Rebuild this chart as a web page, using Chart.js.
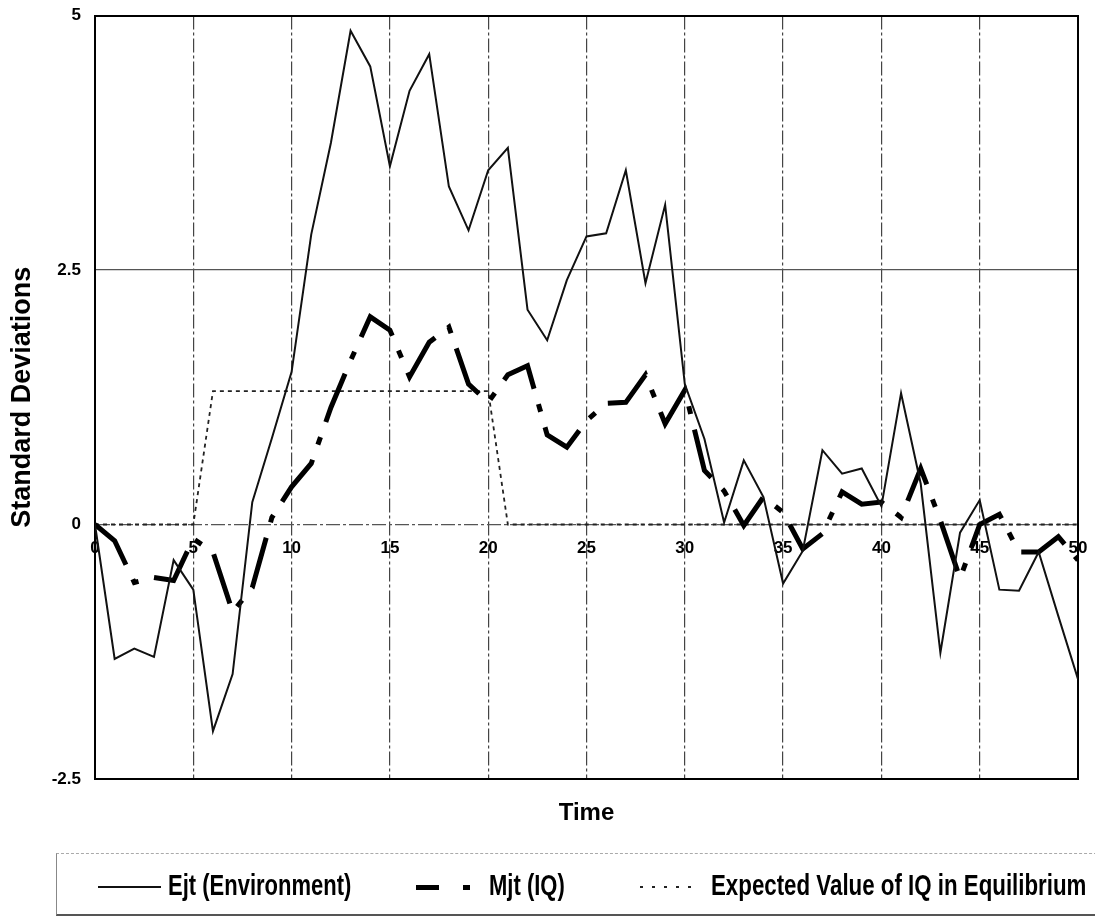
<!DOCTYPE html>
<html>
<head>
<meta charset="utf-8">
<script src="https://cdn.jsdelivr.net/npm/chart.js@4"></script>
<style>
  body { margin: 0; background: #fff; }
  #wrap { position: relative; width: 1095px; height: 916px; overflow: hidden; }
  #frame { position: absolute; left: 56px; top: 853px; width: 1060px; height: 60px;
           border-top: 1px dashed #aaa; border-left: 1px solid #888; border-bottom: 2px solid #555; }
  .sample { position: absolute; }
  .txt { position: absolute; top: 873px; line-height: 28px; white-space: nowrap;
         font: bold 22px "Liberation Sans", Arial, sans-serif; color: #000;
         transform: scaleY(1.3); transform-origin: left center; }
</style>
</head>
<body>
<div id="wrap">
  <canvas id="chart" width="1095" height="916"></canvas>
  <div id="frame"></div>
  <div class="sample" style="left:98px;top:886px;width:63px;height:2px;background:#111"></div>
  <div class="txt" style="left:168px">Ejt (Environment)</div>
  <div class="sample" style="left:416px;top:885px;width:23px;height:5px;background:#000"></div>
  <div class="sample" style="left:463px;top:885px;width:7px;height:5px;background:#000"></div>
  <div class="txt" style="left:489px">Mjt (IQ)</div>
  <div class="sample" style="left:640px;top:886px;width:60px;height:2px;background:repeating-linear-gradient(90deg,#222 0 3px,transparent 3px 12px)"></div>
  <div class="txt" style="left:711px;font-size:22.3px">Expected Value of IQ in Equilibrium</div>
</div>
<script>
const time = [0, 1, 2, 3, 4, 5, 6, 7, 8, 9, 10, 11, 12, 13, 14, 15, 16, 17, 18, 19, 20,
  21, 22, 23, 24, 25, 26, 27, 28, 29, 30, 31, 32, 33, 34, 35, 36, 37, 38, 39, 40,
  41, 42, 43, 44, 45, 46, 47, 48, 49, 50];

// Ejt (Environment)
const ejt = [0.00, -1.32, -1.22, -1.30, -0.35, -0.64, -2.03, -1.47, 0.22, 0.85, 1.50,
  2.85, 3.75, 4.85, 4.50, 3.52, 4.26, 4.62, 3.32, 2.89, 3.48,
  3.70, 2.11, 1.81, 2.40, 2.83, 2.86, 3.48, 2.37, 3.14, 1.38,
  0.84, 0.02, 0.63, 0.27, -0.58, -0.26, 0.73, 0.50, 0.55, 0.18,
  1.29, 0.40, -1.26, -0.08, 0.24, -0.64, -0.65, -0.27, -0.90, -1.52];

// Mjt (IQ)
const mjt = [0.00, -0.16, -0.57, -0.52, -0.55, -0.14, -0.27, -0.86, -0.62, 0.07, 0.37,
  0.60, 1.15, 1.61, 2.04, 1.91, 1.45, 1.79, 1.94, 1.38, 1.20,
  1.47, 1.56, 0.88, 0.76, 1.02, 1.19, 1.20, 1.47, 0.99, 1.32,
  0.53, 0.33, -0.01, 0.27, 0.12, -0.24, -0.09, 0.32, 0.20, 0.22,
  0.07, 0.55, 0.04, -0.53, 0.00, 0.10, -0.27, -0.27, -0.12, -0.35];

// Expected Value of IQ in Equilibrium
const expectedIQ = [0, 0, 0, 0, 0, 0, 1.31, 1.31, 1.31, 1.31, 1.31,
  1.31, 1.31, 1.31, 1.31, 1.31, 1.31, 1.31, 1.31, 1.31, 1.31,
  0, 0, 0, 0, 0, 0, 0, 0, 0, 0,
  0, 0, 0, 0, 0, 0, 0, 0, 0, 0,
  0, 0, 0, 0, 0, 0, 0, 0, 0, 0];

const xTickValues = [0, 5, 10, 15, 20, 25, 30, 35, 40, 45, 50];
const yTickValues = [-2.5, 0, 2.5, 5];

const FONT = '"Liberation Sans", Arial, sans-serif';
const toPoints = arr => arr.map((v, i) => ({x: time[i], y: v}));
const dashDot = [14, 3, 3, 3];
const tickFont = {family: FONT, size: 17, weight: 'bold'};

// keep the plot frame where the layout padding puts it
function noPad(s) {
    s.paddingTop = 0; s.paddingBottom = 0; s.paddingLeft = 0; s.paddingRight = 0;
}

Chart.defaults.color = '#000';
Chart.defaults.font.family = FONT;

new Chart(document.getElementById('chart'), {
    type: 'line',
    data: {
        datasets: [{
            label: 'Ejt (Environment)',
            data: toPoints(ejt),
            borderColor: '#111',
            borderWidth: 2,
            pointRadius: 0
        }, {
            label: 'Mjt (IQ)',
            data: toPoints(mjt),
            borderColor: '#000',
            borderWidth: 5,
            borderDash: [52, 16, 8, 16],
            pointRadius: 0
        }, {
            label: 'Expected Value of IQ in Equilibrium',
            data: toPoints(expectedIQ),
            borderColor: '#222',
            borderWidth: 1.8,
            borderDash: [4, 4],
            pointRadius: 0
        }]
    },
    options: {
        responsive: false,
        animation: false,
        layout: {padding: {top: 15.5, right: 17, bottom: 0, left: 0}},
        plugins: {legend: {display: false}, tooltip: {enabled: false}},
        scales: {
            x: {
                type: 'linear', position: 'bottom', min: 0, max: 50,
                afterBuildTicks: s => { s.ticks = xTickValues.map(v => ({value: v})); },
                afterFit: s => { s.height = 137; noPad(s); },
                ticks: {display: false},
                grid: {
                    color: c => (c.tick && (c.tick.value === 0 || c.tick.value === 50)) ? 'rgba(0,0,0,0)' : '#444',
                    lineWidth: 1.2,
                    drawTicks: false
                },
                border: {display: true, color: '#000', width: 2, dash: dashDot},
                title: {display: true, text: 'Time', font: {family: FONT, size: 24, weight: 'bold'},
                        padding: {top: 0, bottom: 88.6}}
            },
            x2: {
                axis: 'x', type: 'linear', position: {y: 0}, min: 0, max: 50,
                afterBuildTicks: s => { s.ticks = xTickValues.map(v => ({value: v})); },
                afterFit: noPad,
                ticks: {font: tickFont, padding: 14, callback: v => String(v)},
                grid: {display: false, drawTicks: false},
                border: {display: false}
            },
            y: {
                type: 'linear', position: 'left', min: -2.5, max: 5,
                afterBuildTicks: s => { s.ticks = yTickValues.map(v => ({value: v})); },
                afterFit: s => { s.width = 95; noPad(s); },
                ticks: {font: tickFont, padding: 14, callback: v => String(v)},
                grid: {
                    color: c => (c.tick && (c.tick.value === 5 || c.tick.value === -2.5)) ? '#000' : '#555',
                    lineWidth: c => (c.tick && (c.tick.value === 5 || c.tick.value === -2.5)) ? 2 : 1.2,
                    drawTicks: false
                },
                border: {display: true, color: '#000', width: 2,
                         dash: c => (c.tick && c.tick.value === 0) ? dashDot : []},
                title: {display: true, text: 'Standard Deviations', font: {family: FONT, size: 27, weight: 'bold'},
                        padding: {top: 6, bottom: 0}}
            },
            y2: {
                axis: 'y', type: 'linear', position: 'right', min: -2.5, max: 5,
                afterFit: s => { s.width = 0; noPad(s); },
                ticks: {display: false},
                grid: {display: false, drawTicks: false},
                border: {display: true, color: '#000', width: 2}
            }
        }
    }
});
</script>
</body>
</html>
